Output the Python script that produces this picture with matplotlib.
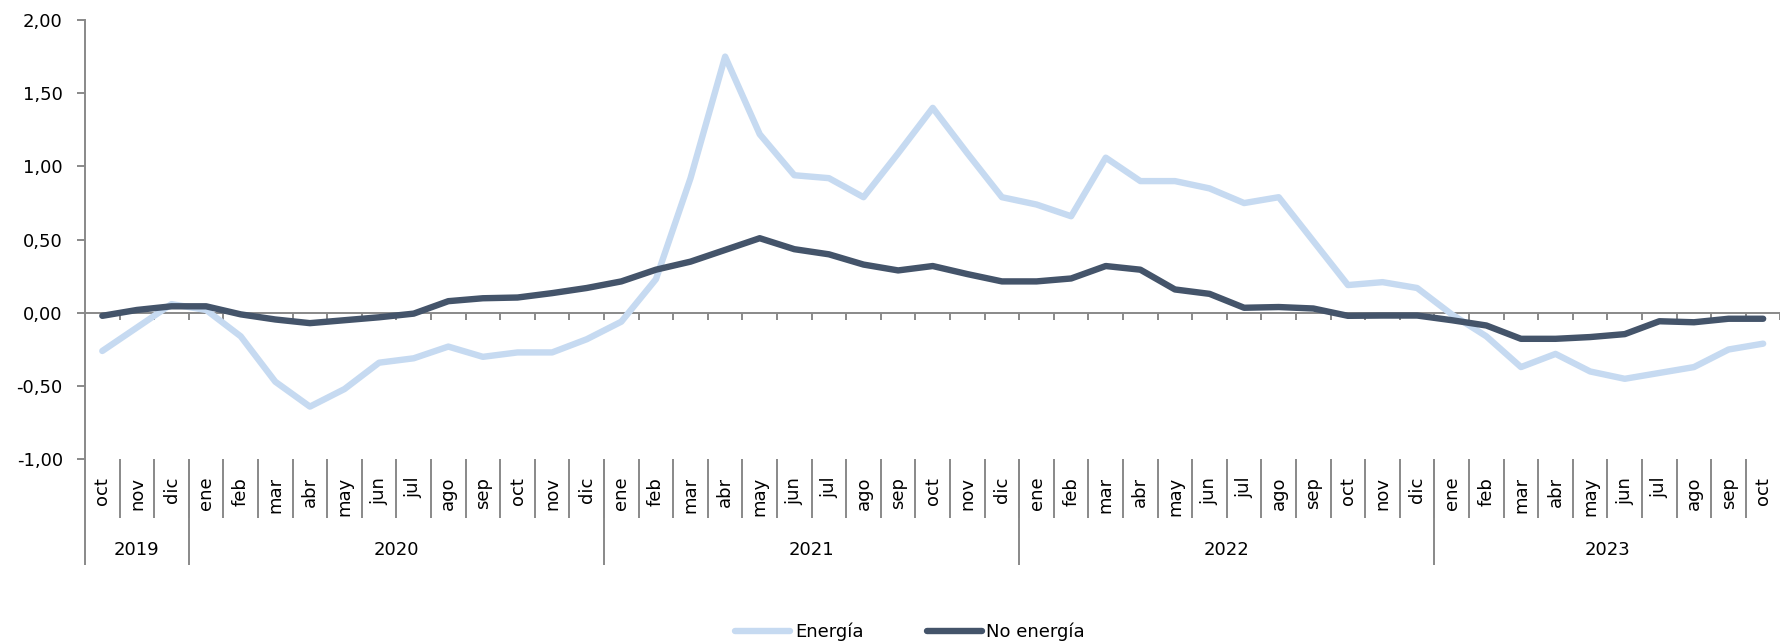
import numpy as np
import matplotlib
matplotlib.use("Agg")
import matplotlib.pyplot as plt

meses = ["ene", "feb", "mar", "abr", "may", "jun", "jul", "ago", "sep", "oct", "nov", "dic"]
anios = ["2019", "2020", "2021", "2022", "2023"]
n_meses = [3, 12, 12, 12, 10]
etiquetas_mes = ["oct", "nov", "dic"] + meses * 3 + meses[:10]

energia = [-0.26, -0.10, 0.06,
           0.02, -0.16, -0.47, -0.64, -0.52, -0.34, -0.31, -0.23, -0.30, -0.27, -0.27, -0.18,
           -0.06, 0.23, 0.92, 1.75, 1.22, 0.94, 0.92, 0.79, 1.09, 1.40, 1.09, 0.79,
           0.74, 0.66, 1.06, 0.90, 0.90, 0.85, 0.75, 0.79, 0.49, 0.19, 0.21, 0.17,
           -0.01, -0.16, -0.37, -0.28, -0.40, -0.45, -0.41, -0.37, -0.25, -0.21]
no_energia = [-0.02, 0.02, 0.045,
              0.045, -0.01, -0.045, -0.07, -0.05, -0.03, -0.005, 0.08, 0.10, 0.105, 0.135, 0.17,
              0.215, 0.295, 0.35, 0.43, 0.51, 0.435, 0.40, 0.33, 0.29, 0.32, 0.265, 0.215,
              0.215, 0.235, 0.32, 0.295, 0.16, 0.13, 0.035, 0.04, 0.03, -0.02, -0.018, -0.018,
              -0.05, -0.086, -0.177, -0.177, -0.165, -0.145, -0.057, -0.064, -0.04, -0.04]

plt.rcParams["font.family"] = ["DejaVu Sans"]
gris = "#898989"
fs = 13

fig = plt.figure(figsize=(17.81, 6.41), dpi=100)
ax = fig.add_axes([85 / 1781, 0.2834, 1 - 85 / 1781 - 0.0003, 0.9688 - 0.2834])

x = np.arange(len(etiquetas_mes))
ax.plot(x, energia, color="#C6DAF1", lw=4.6, solid_capstyle="round",
        solid_joinstyle="round", label="Energía", zorder=3)
ax.plot(x, no_energia, color="#44546A", lw=4.6, solid_capstyle="round",
        solid_joinstyle="round", label="No energía", zorder=4)

ax.set_xlim(-0.5, len(x) - 0.5)
ax.set_ylim(-1, 2)
ax.set_yticks(np.arange(-1, 2.01, 0.5))
ax.set_yticklabels(["{:.2f}".format(v).replace(".", ",") for v in np.arange(-1, 2.01, 0.5)],
                   fontsize=fs)
ax.tick_params(axis="y", direction="out", length=5.5, width=1.4, color=gris, pad=10.5)
ax.set_xticks([])

for s in ["top", "right", "bottom"]:
    ax.spines[s].set_visible(False)
ax.spines["left"].set_color(gris)
ax.spines["left"].set_linewidth(1.4)

# zero line with category ticks
ax.axhline(0, color=gris, lw=1.4, zorder=2)
bordes = np.arange(len(x)) + 0.5
ax.vlines(bordes, -0.046, 0, color=gris, lw=1.4, zorder=2)

# category labels below the plot
tr = ax.get_xaxis_transform()
for i, m in enumerate(etiquetas_mes):
    ax.text(i, -0.0396, m, rotation=90, ha="center", va="top", fontsize=fs,
            transform=tr)
ax.vlines(bordes[:-1], -0.1336, 0, color=gris, lw=1.4, transform=tr, clip_on=False)

inicio = 0
limites = [-0.5]
for a, n in zip(anios, n_meses):
    centro = inicio + (n - 1) / 2
    ax.text(centro, -0.2071, a, ha="center", va="center", fontsize=fs, transform=tr)
    inicio += n
    limites.append(inicio - 0.5)
ax.vlines(limites[:-1], -0.2406, 0, color=gris, lw=1.4, transform=tr, clip_on=False)

fig.legend(loc="center", bbox_to_anchor=(0.511, 0.0145), ncol=2, frameon=False,
           fontsize=fs, handlelength=3.05, handletextpad=0.26, columnspacing=3.5,
           borderpad=0, borderaxespad=0)

fig.savefig("out.png", dpi=100)
